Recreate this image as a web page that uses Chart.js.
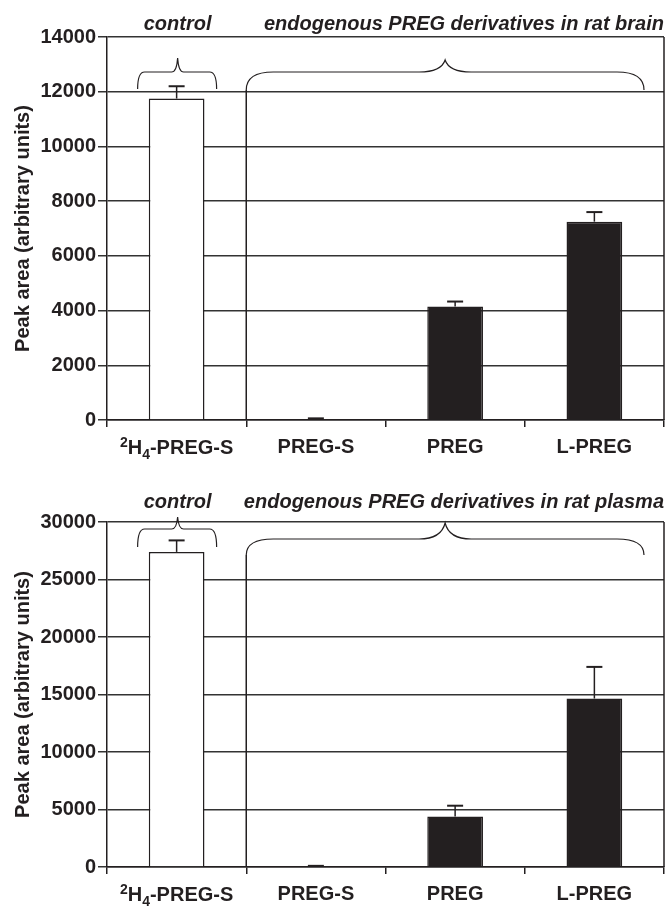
<!DOCTYPE html>
<html>
<head>
<meta charset="utf-8">
<script src="https://cdn.jsdelivr.net/npm/chart.js@4.4.0/dist/chart.umd.min.js"></script>
<style>
  body { margin: 0; background: #fff; }
  #wrap { position: relative; width: 667px; height: 907px; }
  canvas { position: absolute; left: 0; }
</style>
</head>
<body>
<div id="wrap">
  <canvas id="brainChart" width="667" height="465" style="top:0"></canvas>
  <canvas id="plasmaChart" width="667" height="442" style="top:465px"></canvas>
</div>
<script>
// Données
var categories = ['²H₄-PREG-S', 'PREG-S', 'PREG', 'L-PREG'];
var brainValues = [11750, 0, 4150, 7250];
var brainErrors = [450, 60, 180, 350];
var brainTicks = [0, 14000, 2000];     // min, max, pas
var plasmaValues = [27400, 0, 4400, 14650];
var plasmaErrors = [1000, 100, 930, 2750];
var plasmaTicks = [0, 30000, 5000];
var barColors = ['#ffffff', '#231f20', '#231f20', '#231f20'];

var ink = '#231f20';
var fontFamily = "'Liberation Sans', Arial, sans-serif";
var fontSize = 20;
Chart.defaults.font.family = fontFamily;
Chart.defaults.color = ink;

var supSub = { '²': ['2', 'sup'], '₄': ['4', 'sub'] };
function hasSupSub(s) {
  return /[²₄]/.test(s);
}

// étiquette avec exposant / indice
function drawRichLabel(ctx, label, cx, cy) {
  var parts = [];
  label.split('').forEach(function (ch) {
    var kind = supSub[ch] ? supSub[ch][1] : 'normal';
    var t = supSub[ch] ? supSub[ch][0] : ch;
    var last = parts[parts.length - 1];
    if (last && last.kind === kind) last.t += t;
    else parts.push({ t: t, kind: kind });
  });
  var big = 'bold ' + fontSize + 'px ' + fontFamily;
  var small = 'bold ' + Math.round(fontSize * 0.72) + 'px ' + fontFamily;
  var total = 0;
  parts.forEach(function (p) {
    ctx.font = p.kind === 'normal' ? big : small;
    p.w = ctx.measureText(p.t).width;
    total += p.w;
  });
  var x = cx - total / 2;
  ctx.textAlign = 'left';
  ctx.textBaseline = 'alphabetic';
  parts.forEach(function (p) {
    ctx.font = p.kind === 'normal' ? big : small;
    var dy = p.kind === 'sup' ? -7 : (p.kind === 'sub' ? 5 : 0);
    ctx.fillText(p.t, x, cy + dy);
    x += p.w;
  });
}

// accolade horizontale
function drawBrace(ctx, x0, x1, xm, yEnd, yMid, yTip, rEnd, rTip) {
  ctx.beginPath();
  ctx.moveTo(x0, yEnd);
  ctx.quadraticCurveTo(x0, yMid, x0 + rEnd, yMid);
  ctx.lineTo(xm - rTip, yMid);
  ctx.quadraticCurveTo(xm - rTip * 0.15, yMid, xm, yTip);
  ctx.quadraticCurveTo(xm + rTip * 0.15, yMid, xm + rTip, yMid);
  ctx.lineTo(x1 - rEnd, yMid);
  ctx.quadraticCurveTo(x1, yMid, x1, yEnd);
  ctx.stroke();
}

var extras = {
  id: 'extras',
  afterDatasetsDraw: function (chart, args, opts) {
    var ctx = chart.ctx, area = chart.chartArea;
    var x = chart.scales.x, y = chart.scales.y;
    var meta = chart.getDatasetMeta(0);
    ctx.save();
    ctx.strokeStyle = ink;

    // barres d'erreur
    opts.errors.forEach(function (e, i) {
      var bar = meta.data[i];
      var yTop = y.getPixelForValue(opts.values[i] + e);
      ctx.lineWidth = 1.5;
      ctx.beginPath();
      ctx.moveTo(bar.x, bar.y);
      ctx.lineTo(bar.x, yTop);
      ctx.stroke();
      ctx.lineWidth = 2;
      ctx.beginPath();
      ctx.moveTo(bar.x - 8, yTop);
      ctx.lineTo(bar.x + 8, yTop);
      ctx.stroke();
    });

    // bord droit
    ctx.lineWidth = 1.5;
    ctx.beginPath();
    ctx.moveTo(area.right, area.top);
    ctx.lineTo(area.right, area.bottom);
    ctx.stroke();

    // séparateur + accolades
    var c0 = x.getPixelForValue(0), c1 = x.getPixelForValue(1);
    var sep = (c0 + c1) / 2;
    var b = opts.brace;
    ctx.beginPath();
    ctx.moveTo(sep, area.top + b.mainEnd);
    ctx.lineTo(sep, area.bottom);
    ctx.stroke();
    ctx.lineWidth = 1.2;
    drawBrace(ctx, c0 - 39, c0 + 40, c0 + 1, area.top + b.leftEnd, area.top + b.leftMid, area.top + b.leftTip, 7, 6);
    var x1 = area.right - 20;
    drawBrace(ctx, sep, x1, (sep + x1) / 2, area.top + b.mainEnd, area.top + b.mainMid, area.top + b.mainTip, 27, 26);

    // légendes au-dessus
    ctx.font = 'italic bold ' + fontSize + 'px ' + fontFamily;
    ctx.fillStyle = ink;
    ctx.textBaseline = 'alphabetic';
    ctx.textAlign = 'center';
    ctx.fillText('control', c0 + 1, area.top + b.textY);
    ctx.textAlign = 'right';
    ctx.fillText(opts.title, area.right, area.top + b.textY);

    // étiquettes avec exposant / indice
    ctx.fillStyle = ink;
    categories.forEach(function (lab, i) {
      if (hasSupSub(lab)) drawRichLabel(ctx, lab, x.getPixelForValue(i), area.bottom + 34);
    });
    ctx.restore();
  }
};

function makeChart(id, values, errors, ticks, title, brace, padTop, xHeight) {
  var ctx = document.getElementById(id).getContext('2d');
  return new Chart(ctx, {
    type: 'bar',
    data: {
      labels: categories,
      datasets: [{
        data: values,
        backgroundColor: barColors,
        borderColor: ink,
        borderWidth: 1.5,
        barPercentage: 0.4,
        categoryPercentage: 1
      }]
    },
    options: {
      responsive: false,
      animation: false,
      devicePixelRatio: 1,
      layout: { padding: { top: padTop, right: 3, left: 0, bottom: 0 } },
      plugins: {
        legend: { display: false },
        tooltip: { enabled: false },
        extras: { values: values, errors: errors, title: title, brace: brace }
      },
      scales: {
        x: {
          grid: { drawOnChartArea: false, drawTicks: true, tickLength: 7, color: ink, lineWidth: 1.5, offset: true },
          border: { display: true, color: ink, width: 1.5 },
          ticks: {
            font: { size: fontSize, weight: 'bold' },
            color: ink,
            padding: 8,
            maxRotation: 0,
            autoSkip: false,
            callback: function (v, i) {
              var lab = categories[i];
              return hasSupSub(lab) ? '' : lab;
            }
          },
          afterFit: function (s) { s.height = xHeight; }
        },
        y: {
          min: ticks[0],
          max: ticks[1],
          ticks: {
            stepSize: ticks[2],
            font: { size: fontSize, weight: 'bold' },
            color: ink,
            padding: 2,
            callback: function (v) { return String(v); }
          },
          grid: { color: '#333333', lineWidth: 1.5, tickLength: 9 },
          border: { display: true, color: ink, width: 1.5 },
          title: {
            display: true,
            text: 'Peak area (arbitrary units)',
            font: { size: fontSize, weight: 'bold' },
            color: ink,
            padding: { top: 11, bottom: 0 }
          },
          afterFit: function (s) { s.width = 107; }
        }
      }
    },
    plugins: [extras]
  });
}

document.addEventListener('DOMContentLoaded', function () {
  makeChart('brainChart', brainValues, brainErrors, brainTicks,
    'endogenous PREG derivatives in rat brain',
    { leftEnd: 52, leftMid: 35, leftTip: 21, mainEnd: 53, mainMid: 35, mainTip: 23, textY: -7 },
    37, 45);
  makeChart('plasmaChart', plasmaValues, plasmaErrors, plasmaTicks,
    'endogenous PREG derivatives in rat plasma',
    { leftEnd: 25, leftMid: 7, leftTip: -5, mainEnd: 33, mainMid: 17, mainTip: 1, textY: -14 },
    57, 40);
});
</script>
</body>
</html>
